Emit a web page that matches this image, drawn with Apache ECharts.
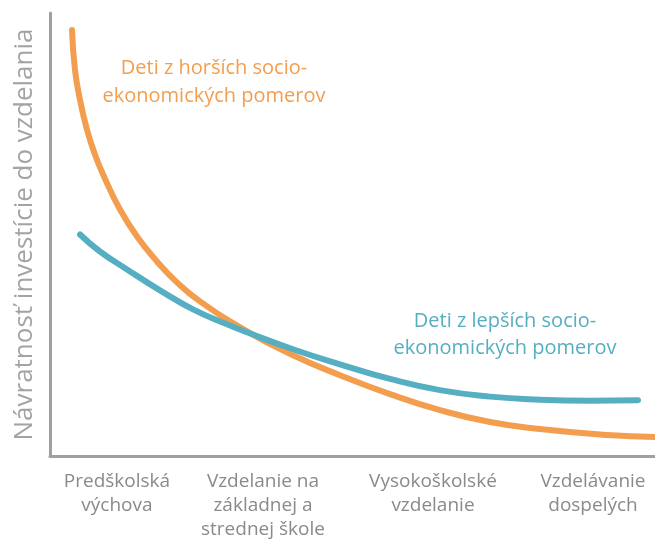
<!DOCTYPE html>
<html><head><meta charset="utf-8">
<script src="https://cdn.jsdelivr.net/npm/echarts@6/dist/echarts.min.js"></script>
<style>html,body{margin:0;padding:0;background:#fff}#c{width:655px;height:542px}</style>
</head><body><div id="c"></div>
<script>
const categories = ['Predškolská\nvýchova', 'Vzdelanie na\nzákladnej a\nstrednej škole', 'Vysokoškolské\nvzdelanie', 'Vzdelávanie\ndospelých'];
const categoryPositions = [11.07, 35.2, 63.3, 89.75];
const worseX = [3.64, 4.13, 4.96, 6.12, 7.44, 9.09, 11.57, 14.38, 17.69, 20.99, 24.79, 32.56, 40.17, 47.93, 56.20, 64.46, 72.73, 80.99, 92.07, 100];
const worseY = [96.17, 87.16, 80.41, 73.65, 68.02, 62.61, 55.63, 49.55, 43.92, 39.19, 34.91, 28.15, 22.75, 18.24, 13.96, 10.36, 7.66, 6.08, 4.73, 4.28];
const betterX = [4.96, 8.26, 12.73, 18.18, 23.64, 29.26, 32.56, 40.17, 47.93, 56.20, 64.46, 72.73, 80.99, 89.26, 97.19];
const betterY = [50.0, 46.17, 42.12, 37.39, 33.11, 29.73, 27.93, 24.1, 20.7, 17.4, 14.86, 13.4, 12.72, 12.5, 12.61];
const worseLabel = 'Deti z horších socio-\nekonomických pomerov';
const betterLabel = 'Deti z lepších socio-\nekonomických pomerov';
const yTitle = 'Návratnosť investície do vzdelania';

const FONT = 'Open Sans';
const chart = echarts.init(document.getElementById('c'), null, {renderer: 'canvas'});
chart.setOption({
  animation: false,
  grid: {left: 50, right: 0, top: 13, bottom: 85, containLabel: false},
  xAxis: {
    type: 'value', min: 0, max: 100,
    axisLine: {show: true, lineStyle: {color: '#a0a0a0', width: 3}},
    axisTick: {show: false},
    splitLine: {show: false},
    axisLabel: {
      customValues: categoryPositions,
      formatter: function (v) {
        let best = 0;
        categoryPositions.forEach((p, i) => { if (Math.abs(p - v) < Math.abs(categoryPositions[best] - v)) best = i; });
        return categories[best];
      },
      color: '#8a8a8a', fontSize: 19, lineHeight: 24, fontFamily: FONT, margin: 14, verticalAlign: 'top'
    }
  },
  yAxis: {
    type: 'value', min: 0, max: 100,
    name: yTitle, nameLocation: 'middle', nameRotate: 90, nameGap: 12,
    nameTextStyle: {color: '#a3a3a3', fontSize: 26, fontFamily: FONT},
    axisLine: {show: true, lineStyle: {color: '#a0a0a0', width: 3}},
    axisTick: {show: false}, axisLabel: {show: false}, splitLine: {show: false}
  },
  series: [
    {type: 'line', smooth: 0.5, symbol: 'none',
     data: worseX.map((x, i) => [x, worseY[i]]),
     lineStyle: {color: '#f39e4f', width: 6, cap: 'round'}},
    {type: 'line', smooth: 0.5, symbol: 'none',
     data: betterX.map((x, i) => [x, betterY[i]]),
     lineStyle: {color: '#56aec3', width: 6, cap: 'round'}}
  ],
  graphic: [
    {type: 'text', x: 214, y: 54, style: {text: worseLabel, fill: '#f39e4f', font: '20px "' + FONT + '"', lineHeight: 28, align: 'center', verticalAlign: 'top'}},
    {type: 'text', x: 505, y: 308, style: {text: betterLabel, fill: '#56aec3', font: '20px "' + FONT + '"', lineHeight: 27, align: 'center', verticalAlign: 'top'}}
  ]
});
</script></body></html>
